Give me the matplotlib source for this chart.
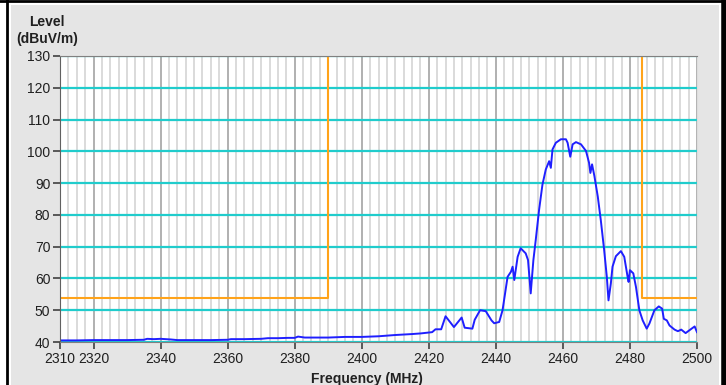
import numpy as np
import matplotlib.pyplot as plt
from matplotlib.patches import Rectangle
from matplotlib.lines import Line2D

plt.rcParams['font.family'] = ['Liberation Sans', 'DejaVu Sans']

# trace (MHz, dBuV/m)
freq = [2310, 2315, 2320, 2325, 2330, 2335, 2336, 2338, 2340, 2343, 2345, 2350,
        2355, 2360, 2361, 2365, 2370, 2372, 2375, 2378, 2380, 2381, 2383, 2385,
        2390, 2395, 2400, 2405, 2410, 2415, 2417.6, 2421.0, 2422.0, 2423.7,
        2425.0, 2427.5, 2429.8, 2430.7, 2433.0, 2433.7, 2435.3, 2437.0, 2438.7,
        2439.5, 2441.0, 2442.0, 2443.5, 2444.5, 2445.0, 2445.5, 2446.5, 2447.4,
        2448.9, 2449.6, 2450.4, 2451.2, 2451.9, 2452.9, 2453.9, 2454.9, 2455.9,
        2456.4, 2456.9, 2457.9, 2459.4, 2460.9, 2461.4, 2462.2, 2462.9, 2463.9,
        2465.4, 2466.9, 2467.8, 2468.2, 2468.7, 2469.4, 2470.4, 2471.3, 2472.3,
        2473.1, 2473.6, 2474.3, 2474.8, 2475.8, 2477.3, 2478.3, 2479.3, 2479.6,
        2480.0, 2481.0, 2481.8, 2482.8, 2483.8, 2485.0, 2485.8, 2487.3, 2488.6,
        2489.6, 2490.1, 2491.0, 2491.8, 2493.3, 2494.3, 2495.3, 2496.6, 2498.0,
        2499.3, 2500]
level = [40.5, 40.5, 40.6, 40.6, 40.6, 40.7, 41.0, 40.9, 41.0, 40.8, 40.6, 40.6,
         40.6, 40.7, 40.9, 40.9, 41.0, 41.2, 41.2, 41.3, 41.3, 41.7, 41.4, 41.4,
         41.4, 41.6, 41.6, 41.8, 42.2, 42.5, 42.7, 43.1, 44.0, 44.0,
         48.1, 44.7, 47.7, 44.5, 44.2, 47.0, 50.0, 49.7, 46.8,
         45.9, 46.3, 50.0, 60.5, 62.1, 63.7, 59.5, 66.8, 69.5,
         67.9, 65.8, 55.3, 65.8, 72.1, 81.6, 89.5, 94.3, 96.9,
         94.8, 100.6, 102.7, 103.8, 103.8, 102.7, 98.3, 102.2, 102.9,
         102.2, 100.1, 96.4, 93.2, 95.9, 92.2, 85.8, 78.4, 69.0,
         60.5, 53.1, 58.4, 63.7, 67.0, 68.6, 66.8, 60.5, 58.9,
         62.6, 61.6, 57.3, 50.0, 46.8, 44.2, 45.8, 50.0, 51.2,
         50.5, 47.3, 46.8, 45.2, 43.9, 43.4, 43.9, 42.8, 43.9,
         44.9, 43.1]

# limit line (orange)
limit_lo_f = [2310, 2390, 2390]
limit_lo_v = [54, 54, 130]
limit_hi_f = [2483.5, 2483.5, 2500]
limit_hi_v = [130, 54, 54]

xticks = [2310, 2320, 2340, 2360, 2380, 2400, 2420, 2440, 2460, 2480, 2500]
yticks = [40, 50, 60, 70, 80, 90, 100, 110, 120, 130]

fig = plt.figure(figsize=(7.26, 3.85), dpi=100)
fig.patch.set_facecolor('white')
W, H = 726, 385
fig.add_artist(Rectangle((11 / W, 0), (719 - 11) / W, (385 - 5) / H,
                         transform=fig.transFigure, facecolor='#e5e5e5',
                         edgecolor='none', zorder=-10))
fig.add_artist(Line2D([7 / W, 7 / W], [0, 1], color='black', lw=2))
fig.add_artist(Line2D([0, 1], [1 - 1 / H, 1 - 1 / H], color='black', lw=2))
fig.add_artist(Line2D([723.5 / W, 723.5 / W], [0, 1], color='black', lw=4))

ax = fig.add_axes([60 / W, 1 - 342 / H, (697 - 60) / W, (342 - 56) / H])
ax.set_facecolor('white')

ax.set_xlim(2310, 2500)
ax.set_ylim(40, 130)
ax.set_xticks(xticks)
ax.set_xticks(np.arange(2310, 2500.1, 2.5), minor=True)
ax.set_yticks(yticks)

ax.grid(which='minor', axis='x', color='#dadada', lw=1.4)
ax.grid(which='major', axis='x', color='#b0b0b0', lw=1.4)
ax.grid(which='major', axis='y', color='#20cccc', lw=1.6)
ax.set_axisbelow(True)

ax.tick_params(which='minor', length=0)
ax.tick_params(which='major', length=5, width=1.2, color='#404040',
               labelsize=10, labelcolor='#202020', pad=2)

for side in ['top', 'bottom']:
    ax.spines[side].set_color('#808080')
ax.spines['left'].set_color('#606060')
ax.spines['right'].set_color('#dddddd')

ax.plot(limit_lo_f, limit_lo_v, color='#ffa31a', lw=1.5)
ax.plot(limit_hi_f, limit_hi_v, color='#ffa31a', lw=1.5)
ax.plot(freq, level, color='#1f1fff', lw=1.4)

fig.text(47 / W, 1 - 22 / H, 'Level', ha='center', va='center',
         fontsize=10, weight='bold', color='#202020')
fig.text(47 / W, 1 - 39 / H, '(dBuV/m)', ha='center', va='center',
         fontsize=10, weight='bold', color='#202020')
fig.text(367 / W, 1 - 379 / H, 'Frequency (MHz)', ha='center', va='center',
         fontsize=10, weight='bold', color='#202020')

fig.savefig('out.png', dpi=100)
